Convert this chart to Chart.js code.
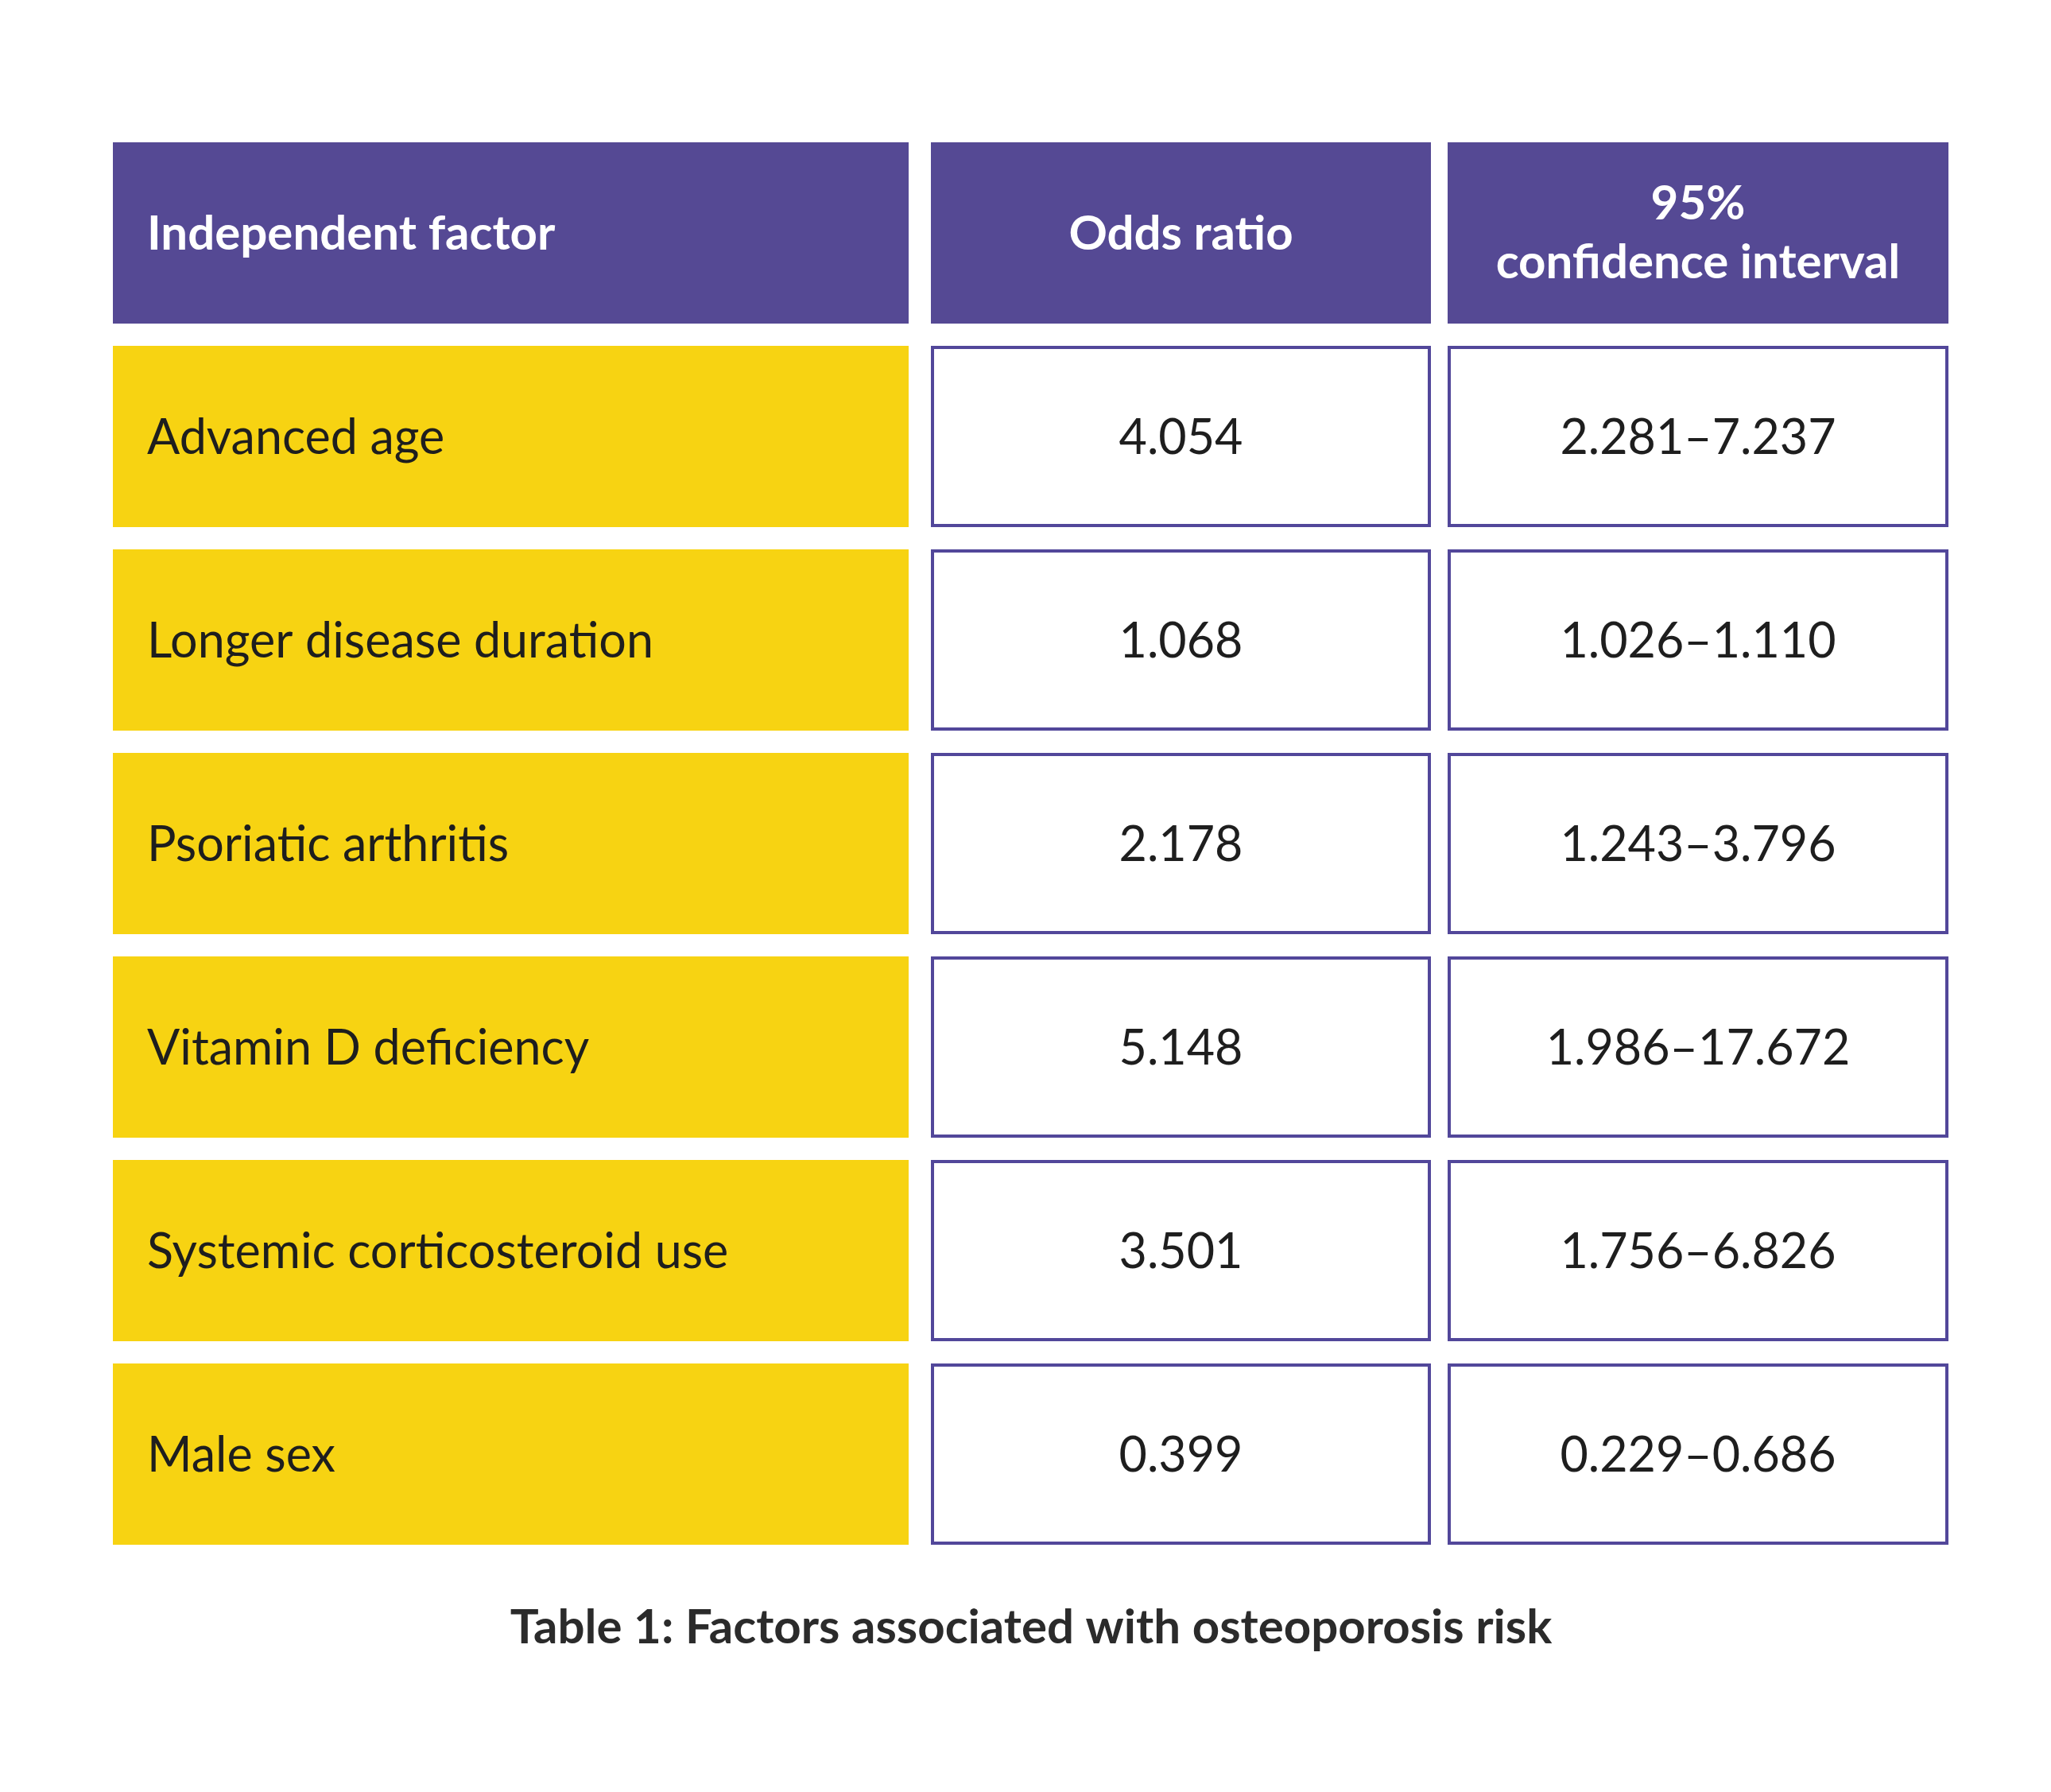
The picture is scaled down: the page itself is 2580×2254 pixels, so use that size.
<!DOCTYPE html>
<html>
<head>
<meta charset="utf-8">
<script src="https://cdn.jsdelivr.net/npm/chart.js@4/dist/chart.umd.min.js"></script>
<style>
  html, body { margin: 0; padding: 0; background: #fff; }
  #wrap { width: 2580px; height: 2254px; }
</style>
</head>
<body>
<div id="wrap"><canvas id="table-chart" width="2580" height="2254"></canvas></div>
<script>
const headers = ['Independent factor', 'Odds ratio', ['95%', 'confidence interval']];
const factors = ['Advanced age', 'Longer disease duration', 'Psoriatic arthritis', 'Vitamin D deficiency', 'Systemic corticosteroid use', 'Male sex'];
const oddsRatios = ['4.054', '1.068', '2.178', '5.148', '3.501', '0.399'];
const confidenceIntervals = ['2.281–7.237', '1.026–1.110', '1.243–3.796', '1.986–17.672', '1.756–6.826', '0.229–0.686'];
const caption = 'Table 1: Factors associated with osteoporosis risk';

const PURPLE = '#554994';
const BORDER = '#52479a';
const YELLOW = '#f7d312';
const FONT = 'Lato, "Open Sans", sans-serif';

// column extents on the x scale (layout, not data)
const colSpans = [[0, 1001], [1029, 1658], [1679, 2309]];
const rowLabels = ['header', ...factors];

const cellTexts = [
    [headers[0], ...factors],
    [headers[1], ...oddsRatios],
    [headers[2], ...confidenceIntervals]
];

const datasets = colSpans.map((span, c) => ({
    label: `col-${c}`,
    data: rowLabels.map(() => span),
    grouped: false,
    categoryPercentage: 228 / 256,
    barPercentage: 1,
    borderSkipped: false,
    backgroundColor: ctx => ctx.dataIndex === 0 ? PURPLE : (c === 0 ? YELLOW : '#ffffff'),
    borderColor: BORDER,
    borderWidth: ctx => (ctx.dataIndex === 0 || c === 0) ? 0 : 4
}));

const cellTextPlugin = {
    id: 'cellText',
    afterDatasetsDraw(chart) {
        const ctx = chart.ctx;
        ctx.save();
        ctx.textBaseline = 'middle';
        chart.data.datasets.forEach((ds, c) => {
            chart.getDatasetMeta(c).data.forEach((bar, r) => {
                const {x, y, base, height} = bar.getProps(['x', 'y', 'base', 'height'], true);
                const left = Math.min(x, base);
                const right = Math.max(x, base);
                const text = cellTexts[c][r];
                if (r === 0) {
                    ctx.fillStyle = '#ffffff';
                    ctx.font = `700 60px ${FONT}`;
                } else {
                    ctx.fillStyle = '#1e1e1e';
                    ctx.font = `400 61px ${FONT}`;
                }
                let tx;
                if (c === 0) { ctx.textAlign = 'left'; tx = left + 43; }
                else { ctx.textAlign = 'center'; tx = (left + right) / 2; }
                if (Array.isArray(text)) {
                    ctx.fillText(text[0], tx, y - 36);
                    ctx.fillText(text[1], tx, y + 38);
                } else {
                    ctx.fillText(text, tx, y + 2);
                }
            });
        });
        ctx.fillStyle = '#2b2b2b';
        ctx.font = `700 60px ${FONT}`;
        ctx.textAlign = 'center';
        ctx.fillText(caption, 1297, 2048);
        ctx.restore();
    }
};

new Chart(document.getElementById('table-chart').getContext('2d'), {
    type: 'bar',
    data: { labels: rowLabels, datasets: datasets },
    options: {
        indexAxis: 'y',
        responsive: false,
        animation: false,
        layout: { padding: { left: 142, right: 129, top: 165, bottom: 297 } },
        plugins: { legend: { display: false }, tooltip: { enabled: false } },
        scales: {
            x: { type: 'linear', min: 0, max: 2309, display: false },
            y: { display: false }
        }
    },
    plugins: [cellTextPlugin]
});
</script>
</body>
</html>
